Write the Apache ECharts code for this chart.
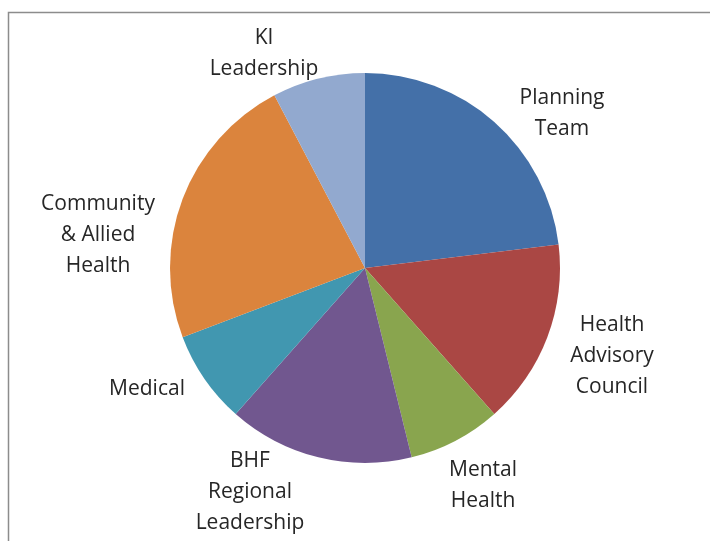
<!DOCTYPE html>
<html><head><meta charset="utf-8">
<script src="https://cdn.jsdelivr.net/npm/echarts@6/dist/echarts.min.js"></script>
<style>html,body{margin:0;padding:0;background:#fff;}#c{width:710px;height:541px;}</style>
</head><body><div id="c"></div>
<script>
const categories = ["Planning\nTeam", "Health\nAdvisory\nCouncil", "Mental\nHealth", "BHF\nRegional\nLeadership", "Medical", "Community\n& Allied\nHealth", "KI\nLeadership"];
const values = [3, 2, 1, 2, 1, 3, 1];
const colors = ["#4470A8", "#AA4744", "#89A54E", "#71578F", "#4197B0", "#DB843D", "#92A9CF"];
const labelCenters = [[562,114],[612,356],[483,486],[250,492],[147,389],[98,235],[264,54]];

const chart = echarts.init(document.getElementById('c'));
chart.setOption({
  animation: false,
  graphic: [{type:'rect', shape:{x:8.5,y:12.5,width:720,height:560}, style:{fill:'none', stroke:'#8c8c8c', lineWidth:1.5}, silent:true}],
  series: [{
    type: 'pie',
    center: [365, 268],
    radius: [0, 195],
    startAngle: 90,
    clockwise: true,
    data: categories.map((c,i)=>({name:c, value:values[i], itemStyle:{color:colors[i]}})),
    itemStyle: {borderWidth: 0},
    label: {show:true, position:'outside', formatter:'{b}', fontFamily:'Open Sans', fontSize:21, color:'#262626', lineHeight:31, align:'center', verticalAlign:'middle'},
    labelLine: {show:false},
    labelLayout: function(p){ const c = labelCenters[p.dataIndex]; return {x:c[0], y:c[1], align:'center', verticalAlign:'middle'}; }
  }]
});
</script></body></html>
